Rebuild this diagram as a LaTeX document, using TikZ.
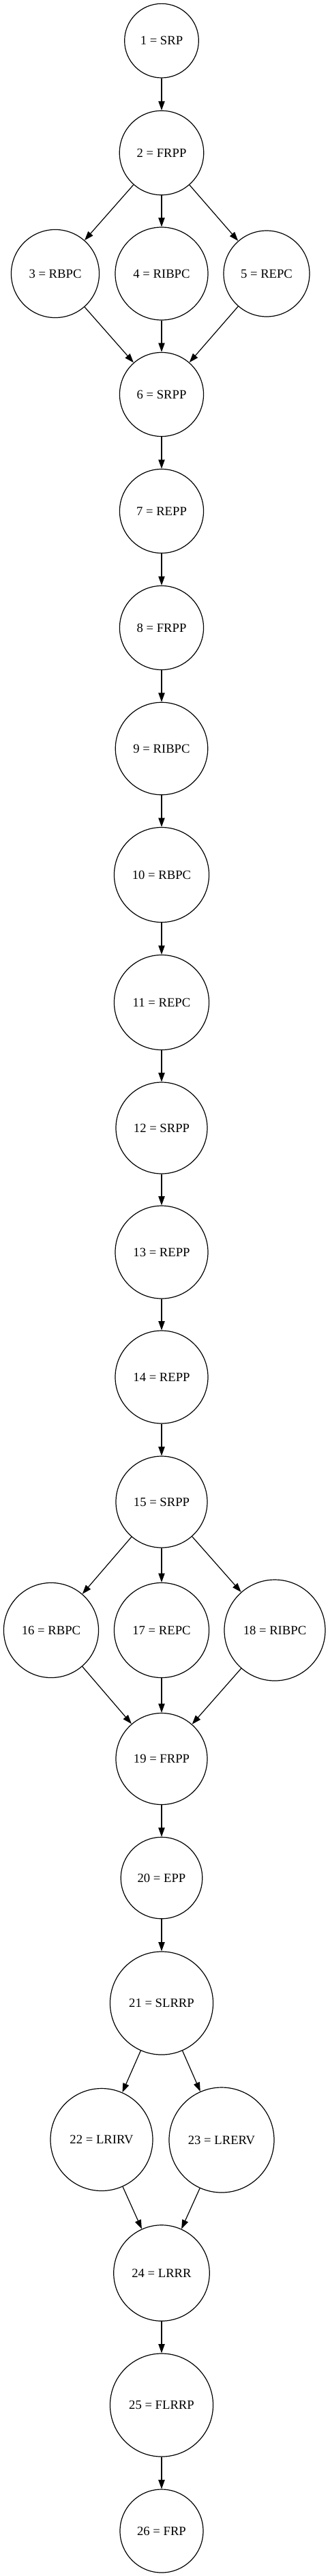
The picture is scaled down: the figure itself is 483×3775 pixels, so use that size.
\documentclass[tikz,border=0pt]{standalone}
\usepackage{fontspec}
\setmainfont{Liberation Serif}
\usetikzlibrary{arrows.meta}

\begin{document}
\begin{tikzpicture}[x=0.75pt, y=-0.75pt]
		\tikzset{vertex/.style = {circle, draw, line width=0.9pt, inner sep=0pt, minimum size=#1, font=\fontsize{14pt}{17pt}\selectfont}}
		\tikzset{edge/.style = {-{Triangle[length=10pt, width=7pt]}, line width=0.9pt}}
		
		\useasboundingbox (0,0) rectangle (483,3775);
		
		\node[vertex=81.5pt]   (1) at (237,   59.7) {1 = SRP};
		\node[vertex=92.6pt]   (2) at (237,  224)   {2 = FRPP};
		\node[vertex=96.8pt]   (3) at ( 81,  401)   {3 = RBPC};
		\node[vertex=102pt]    (4) at (237,  401)   {4 = RIBPC};
		\node[vertex=94.5pt]   (5) at (391,  401)   {5 = REPC};
		\node[vertex=92.3pt]   (6) at (237,  578)   {6 = SRPP};
		\node[vertex=92.3pt]   (7) at (237,  749)   {7 = REPP};
		\node[vertex=92.3pt]   (8) at (237,  920)   {8 = FRPP};
		\node[vertex=101.6pt]  (9) at (237, 1097)   {9 = RIBPC};
		\node[vertex=104.3pt] (10) at (237, 1282)   {10 = RBPC};
		\node[vertex=104.3pt] (11) at (237, 1469)   {11 = REPC};
		\node[vertex=100.5pt] (12) at (237, 1653)   {12 = SRPP};
		\node[vertex=102pt]   (13) at (237, 1835)   {13 = REPP};
		\node[vertex=102pt]   (14) at (237, 2018)   {14 = REPP};
		\node[vertex=100.5pt] (15) at (237, 2201)   {15 = SRPP};
		\node[vertex=104.3pt] (16) at ( 75, 2389)   {16 = RBPC};
		\node[vertex=104.3pt] (17) at (237, 2389)   {17 = REPC};
		\node[vertex=111pt]   (18) at (403, 2389)   {18 = RIBPC};
		\node[vertex=100.5pt] (19) at (237, 2577.5) {19 = FRPP};
		\node[vertex=89.6pt]  (20) at (237, 2752)   {20 = EPP};
		\node[vertex=113.3pt] (21) at (237, 2935.5) {21 = SLRRP};
		\node[vertex=112.5pt] (22) at (149, 3135.5) {22 = LRIRV};
		\node[vertex=115.5pt] (23) at (325, 3136)   {23 = LRERV};
		\node[vertex=105.4pt] (24) at (237, 3331)   {24 = LRRR};
		\node[vertex=113.3pt] (25) at (237, 3524.5) {25 = FLRRP};
		\node[vertex=91.5pt]  (26) at (237, 3709)   {26 = FRP};
		
		\draw[edge]  (1) to  (2);
		\draw[edge]  (2) to  (3);
		\draw[edge]  (2) to  (4);
		\draw[edge]  (2) to  (5);
		\draw[edge]  (3) to  (6);
		\draw[edge]  (4) to  (6);
		\draw[edge]  (5) to  (6);
		\draw[edge]  (6) to  (7);
		\draw[edge]  (7) to  (8);
		\draw[edge]  (8) to  (9);
		\draw[edge]  (9) to (10);
		\draw[edge] (10) to (11);
		\draw[edge] (11) to (12);
		\draw[edge] (12) to (13);
		\draw[edge] (13) to (14);
		\draw[edge] (14) to (15);
		\draw[edge] (15) to (16);
		\draw[edge] (15) to (17);
		\draw[edge] (15) to (18);
		\draw[edge] (16) to (19);
		\draw[edge] (17) to (19);
		\draw[edge] (18) to (19);
		\draw[edge] (19) to (20);
		\draw[edge] (20) to (21);
		\draw[edge] (21) to (22);
		\draw[edge] (21) to (23);
		\draw[edge] (22) to (24);
		\draw[edge] (23) to (24);
		\draw[edge] (24) to (25);
		\draw[edge] (25) to (26);
\end{tikzpicture}
\end{document}
